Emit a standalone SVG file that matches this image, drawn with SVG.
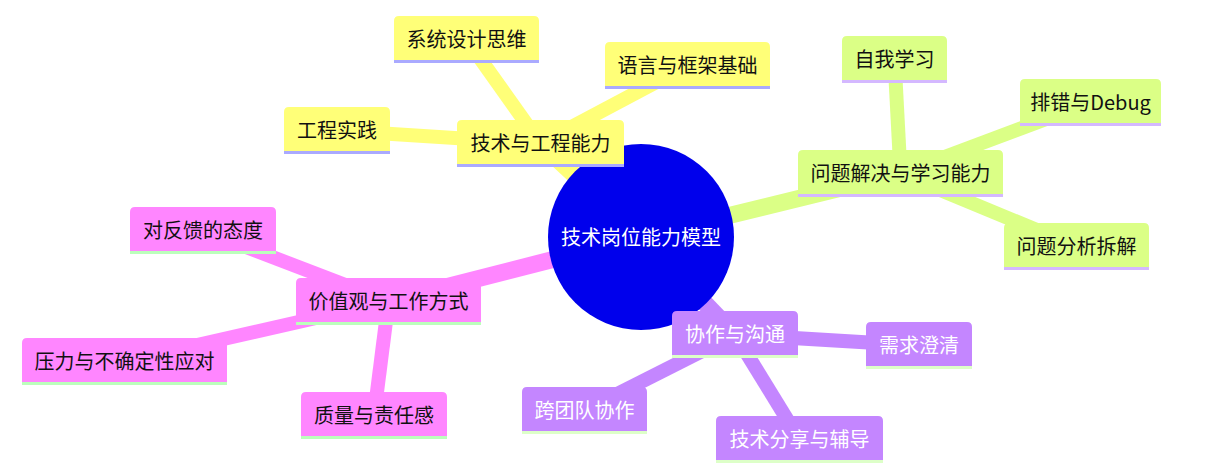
<svg xmlns="http://www.w3.org/2000/svg" width="1219" height="474" viewBox="0 0 1219 474">
<style>
  text { font-family: "Noto Sans CJK SC", "Noto Sans", sans-serif; font-size: 20px; text-anchor: middle; }
  .edge { fill: none; stroke-linecap: butt; }
  .d0 { stroke-width: 17; }
  .d1 { stroke-width: 14; }
  .s0 { fill: #ffff78; }
  .s1 { fill: #dbff86; }
  .s2 { fill: #c486ff; }
  .s3 { fill: #ff86ff; }
  .e0 { stroke: #ffff78; }
  .e1 { stroke: #dbff86; }
  .e2 { stroke: #c486ff; }
  .e3 { stroke: #ff86ff; }
  .l0 { fill: #aaaaff; }
  .l1 { fill: #d4b8ff; }
  .l2 { fill: #ddffc8; }
  .l3 { fill: #bbffbb; }
  .tb { fill: #111111; }
  .tw { fill: #ffffff; }
</style>
<rect x="0" y="0" width="1219" height="474" fill="#ffffff"/>
<g id="connectors">
  <path class="edge d0 e0" d="M641,237 L540.5,143.5"/>
  <path class="edge d0 e1" d="M641,237 L900.5,173.5"/>
  <path class="edge d0 e2" d="M641,237 L735,334.5"/>
  <path class="edge d0 e3" d="M641,237 L388.5,301.5"/>
  <path class="edge d1 e0" d="M540.5,143.5 L466.5,39.5"/>
  <path class="edge d1 e0" d="M540.5,143.5 L687.5,65.5"/>
  <path class="edge d1 e0" d="M540.5,143.5 L337,130.5"/>
  <path class="edge d1 e1" d="M900.5,173.5 L894.5,59.5"/>
  <path class="edge d1 e1" d="M900.5,173.5 L1090.5,102.5"/>
  <path class="edge d1 e1" d="M900.5,173.5 L1076.5,246.5"/>
  <path class="edge d1 e2" d="M735,334.5 L919,345.5"/>
  <path class="edge d1 e2" d="M735,334.5 L584.5,410.5"/>
  <path class="edge d1 e2" d="M735,334.5 L799.5,439.5"/>
  <path class="edge d1 e3" d="M388.5,301.5 L203,230.5"/>
  <path class="edge d1 e3" d="M388.5,301.5 L124.5,361.5"/>
  <path class="edge d1 e3" d="M388.5,301.5 L374,415.5"/>
</g>
<g id="root">
  <circle cx="641" cy="237" r="93" fill="#0000ec"/>
  <text class="tw" x="641" y="245">技术岗位能力模型</text>
</g>
<g id="n-tech" transform="translate(457,120)">
  <path class="s0" d="M0,44 V5 Q0,0 5,0 H162 Q167,0 167,5 V44 Z"/>
  <rect class="l0" x="0" y="44" width="167" height="3"/>
  <text class="tb" x="83.5" y="30.5">技术与工程能力</text>
</g>
<g id="n-sys" transform="translate(394,16)">
  <path class="s0" d="M0,44 V5 Q0,0 5,0 H140 Q145,0 145,5 V44 Z"/>
  <rect class="l0" x="0" y="44" width="145" height="3"/>
  <text class="tb" x="72.5" y="30.5">系统设计思维</text>
</g>
<g id="n-lang" transform="translate(605,42)">
  <path class="s0" d="M0,44 V5 Q0,0 5,0 H160 Q165,0 165,5 V44 Z"/>
  <rect class="l0" x="0" y="44" width="165" height="3"/>
  <text class="tb" x="82.5" y="30.5">语言与框架基础</text>
</g>
<g id="n-eng" transform="translate(284,107)">
  <path class="s0" d="M0,44 V5 Q0,0 5,0 H101 Q106,0 106,5 V44 Z"/>
  <rect class="l0" x="0" y="44" width="106" height="3"/>
  <text class="tb" x="53" y="30.5">工程实践</text>
</g>
<g id="n-prob" transform="translate(798,150)">
  <path class="s1" d="M0,44 V5 Q0,0 5,0 H200 Q205,0 205,5 V44 Z"/>
  <rect class="l1" x="0" y="44" width="205" height="3"/>
  <text class="tb" x="102.5" y="30.5">问题解决与学习能力</text>
</g>
<g id="n-self" transform="translate(842,36)">
  <path class="s1" d="M0,44 V5 Q0,0 5,0 H100 Q105,0 105,5 V44 Z"/>
  <rect class="l1" x="0" y="44" width="105" height="3"/>
  <text class="tb" x="52.5" y="30.5">自我学习</text>
</g>
<g id="n-debug" transform="translate(1020,79)">
  <path class="s1" d="M0,44 V5 Q0,0 5,0 H136 Q141,0 141,5 V44 Z"/>
  <rect class="l1" x="0" y="44" width="141" height="3"/>
  <text class="tb" x="70.5" y="30.5">排错与Debug</text>
</g>
<g id="n-analyze" transform="translate(1004,223)">
  <path class="s1" d="M0,44 V5 Q0,0 5,0 H140 Q145,0 145,5 V44 Z"/>
  <rect class="l1" x="0" y="44" width="145" height="3"/>
  <text class="tb" x="72.5" y="30.5">问题分析拆解</text>
</g>
<g id="n-collab" transform="translate(672,311)">
  <path class="s2" d="M0,44 V5 Q0,0 5,0 H121 Q126,0 126,5 V44 Z"/>
  <rect class="l2" x="0" y="44" width="126" height="3"/>
  <text class="tw" x="63" y="30.5">协作与沟通</text>
</g>
<g id="n-req" transform="translate(866,322)">
  <path class="s2" d="M0,44 V5 Q0,0 5,0 H101 Q106,0 106,5 V44 Z"/>
  <rect class="l2" x="0" y="44" width="106" height="3"/>
  <text class="tw" x="53" y="30.5">需求澄清</text>
</g>
<g id="n-cross" transform="translate(522,387)">
  <path class="s2" d="M0,44 V5 Q0,0 5,0 H120 Q125,0 125,5 V44 Z"/>
  <rect class="l2" x="0" y="44" width="125" height="3"/>
  <text class="tw" x="62.5" y="30.5">跨团队协作</text>
</g>
<g id="n-share" transform="translate(716,416)">
  <path class="s2" d="M0,44 V5 Q0,0 5,0 H162 Q167,0 167,5 V44 Z"/>
  <rect class="l2" x="0" y="44" width="167" height="3"/>
  <text class="tw" x="83.5" y="30.5">技术分享与辅导</text>
</g>
<g id="n-values" transform="translate(296,278)">
  <path class="s3" d="M0,44 V5 Q0,0 5,0 H180 Q185,0 185,5 V44 Z"/>
  <rect class="l3" x="0" y="44" width="185" height="3"/>
  <text class="tb" x="92.5" y="30.5">价值观与工作方式</text>
</g>
<g id="n-feedback" transform="translate(130,207)">
  <path class="s3" d="M0,44 V5 Q0,0 5,0 H141 Q146,0 146,5 V44 Z"/>
  <rect class="l3" x="0" y="44" width="146" height="3"/>
  <text class="tb" x="73" y="30.5">对反馈的态度</text>
</g>
<g id="n-pressure" transform="translate(22,338)">
  <path class="s3" d="M0,44 V5 Q0,0 5,0 H200 Q205,0 205,5 V44 Z"/>
  <rect class="l3" x="0" y="44" width="205" height="3"/>
  <text class="tb" x="102.5" y="30.5">压力与不确定性应对</text>
</g>
<g id="n-quality" transform="translate(301,392)">
  <path class="s3" d="M0,44 V5 Q0,0 5,0 H141 Q146,0 146,5 V44 Z"/>
  <rect class="l3" x="0" y="44" width="146" height="3"/>
  <text class="tb" x="73" y="30.5">质量与责任感</text>
</g>
</svg>
